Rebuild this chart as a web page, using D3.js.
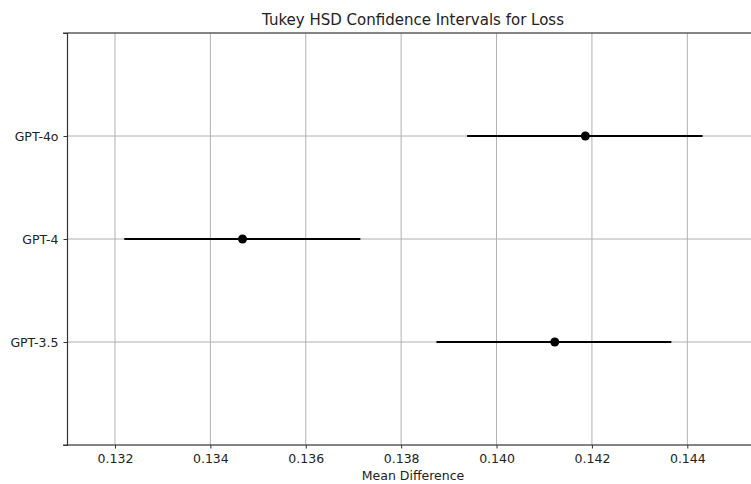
<!DOCTYPE html>
<html>
<head>
<meta charset="utf-8">
<script src="https://cdn.jsdelivr.net/npm/d3@7"></script>
<style>
  body { margin: 0; background: #fff; }
  svg text { font-family: "DejaVu Sans", sans-serif; fill: #222; }
</style>
</head>
<body>
<svg id="chart"></svg>
<script>
// Tukey HSD simultaneous confidence intervals
const groups = ["GPT-3.5", "GPT-4", "GPT-4o"];
const means = [0.141221, 0.134674, 0.141862];
const lower = [0.138740, 0.132195, 0.139383];
const upper = [0.143665, 0.137144, 0.144319];
const xTicks = [0.132, 0.134, 0.136, 0.138, 0.140, 0.142, 0.144];

const width = 751;
const height = 484;
const margin = { top: 33, right: 0, bottom: 39, left: 67 };

const svg = d3.select("#chart")
    .attr("width", width)
    .attr("height", height);

const x = d3.scaleLinear()
    .domain([0.130994, 0.145335])
    .range([margin.left, width - margin.right]);

// rows: index 0 at bottom, one empty slot above and below
const y = d3.scaleLinear()
    .domain([-1, groups.length])
    .range([height - margin.bottom, margin.top]);

const yTicks = d3.range(-1, groups.length + 1);

// grid
svg.append("g")
    .selectAll("line")
    .data(xTicks)
    .enter()
    .append("line")
    .attr("x1", d => x(d)).attr("x2", d => x(d))
    .attr("y1", margin.top).attr("y2", height - margin.bottom)
    .style("stroke", "#b0b0b0")
    .style("stroke-width", 1);

svg.append("g")
    .selectAll("line")
    .data(yTicks)
    .enter()
    .append("line")
    .attr("x1", margin.left).attr("x2", width)
    .attr("y1", d => y(d)).attr("y2", d => y(d))
    .style("stroke", "#b0b0b0")
    .style("stroke-width", 1);

// axes
const xAxis = svg.append("g")
    .attr("transform", `translate(0,${height - margin.bottom})`)
    .call(d3.axisBottom(x).tickValues(xTicks).tickFormat(d3.format(".3f")).tickSize(3.5).tickPadding(6));

const yAxis = svg.append("g")
    .attr("transform", `translate(${margin.left},0)`)
    .call(d3.axisLeft(y).tickValues(yTicks)
        .tickFormat(d => (d >= 0 && d < groups.length) ? groups[d] : "")
        .tickSize(3.5).tickPadding(5));

[xAxis, yAxis].forEach(a => {
    a.selectAll("text").style("font-size", "12.5px").style("fill", "#222");
    a.selectAll("line").style("stroke", "#333");
    a.select(".domain").style("stroke", "#333").style("stroke-width", 1.2);
});
xAxis.select(".domain").attr("d", `M${margin.left - 4},0H${width}`);

// top spine
svg.append("line")
    .attr("x1", margin.left - 4).attr("x2", width)
    .attr("y1", margin.top).attr("y2", margin.top)
    .style("stroke", "#333")
    .style("stroke-width", 1.2);

// intervals
svg.selectAll(".ci")
    .data(groups)
    .enter()
    .append("line")
    .attr("class", "ci")
    .attr("x1", (d, i) => x(lower[i]))
    .attr("x2", (d, i) => x(upper[i]))
    .attr("y1", (d, i) => y(i))
    .attr("y2", (d, i) => y(i))
    .style("stroke", "#000")
    .style("stroke-width", 2);

svg.selectAll(".mean")
    .data(groups)
    .enter()
    .append("circle")
    .attr("class", "mean")
    .attr("cx", (d, i) => x(means[i]))
    .attr("cy", (d, i) => y(i))
    .attr("r", 4.5)
    .style("fill", "#000");

// title and label
svg.append("text")
    .attr("x", 413)
    .attr("y", 25)
    .attr("text-anchor", "middle")
    .style("font-size", "15px")
    .text("Tukey HSD Confidence Intervals for Loss");

svg.append("text")
    .attr("x", 413)
    .attr("y", 480)
    .attr("text-anchor", "middle")
    .style("font-size", "12.5px")
    .text("Mean Difference");
</script>
</body>
</html>
